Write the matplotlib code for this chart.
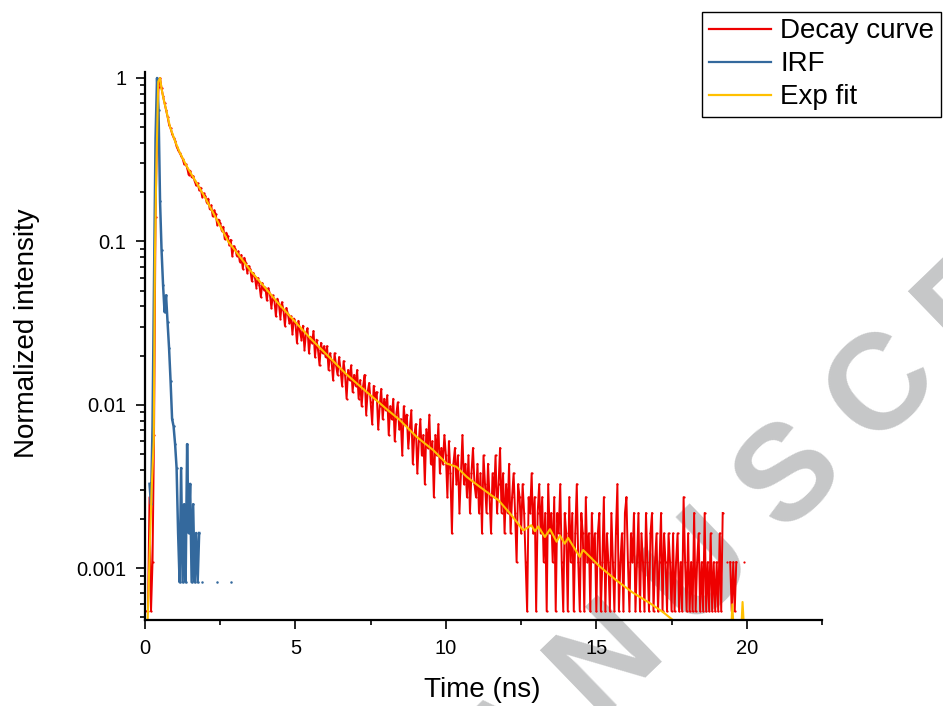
import numpy as np
import matplotlib
matplotlib.use("Agg")
import matplotlib.pyplot as plt
from matplotlib.ticker import LogLocator, NullFormatter, MultipleLocator

plt.rcParams['font.family'] = ['Liberation Sans', 'DejaVu Sans']

# channel width of the TCSPC histograms (ns)
dt = 0.05

# decay curve, raw counts per channel starting at t = 0
decay_counts = [
    0, 1, 1, 5, 1, 2, 12, 260, 880, 1620, 1840, 1590, 1420, 1290, 1175, 1065, 955, 905, 840, 795,
    760, 700, 668, 640, 615, 590, 548, 545, 520, 470, 498, 455, 462, 430, 405, 418, 380, 392, 345, 362,
    350, 318, 336, 290, 306, 262, 285, 270, 232, 250, 238, 214, 226, 190, 208, 198, 175, 188, 150, 172,
    166, 150, 160, 138, 152, 125, 146, 136, 118, 130, 124, 105, 118, 112, 96, 110, 100, 84, 102, 93,
    96, 80, 95, 88, 72, 86, 80, 64, 82, 76, 62, 78, 70, 56, 72, 66, 58, 64, 50, 62,
    58, 44, 60, 52, 46, 56, 40, 50, 54, 38, 48, 44, 52, 36, 46, 40, 32, 44, 38, 42,
    36, 42, 30, 38, 34, 26, 38, 32, 28, 36, 30, 24, 34, 28, 20, 30, 26, 32, 22, 28,
    24, 30, 20, 26, 18, 24, 28, 16, 22, 25, 19, 14, 24, 20, 22, 13, 18, 23, 15, 20,
    17, 21, 12, 18, 15, 20, 11, 16, 19, 13, 15, 9, 18, 14, 16, 10, 13, 17, 8, 12,
    14, 7, 11, 15, 9, 12, 6, 13, 10, 16, 8, 11, 5, 12, 9, 14, 7, 10, 8, 12,
    9, 5, 11, 7, 3, 8, 10, 6, 9, 4, 7, 12, 6, 8, 5, 9, 4, 7, 10, 6,
    5, 8, 4, 7, 3, 9, 6, 4, 8, 5, 3, 7, 5, 9, 4, 6, 10, 4, 7, 3,
    6, 4, 8, 3, 5, 7, 4, 2, 6, 5, 3, 6, 4, 2, 1, 5, 4, 7, 3, 5,
    1, 4, 6, 3, 5, 2, 4, 1, 6, 3, 4, 2, 5, 1, 4, 3, 6, 2, 1, 4,
    3, 1, 5, 2, 4, 1, 3, 6, 2, 1, 4, 3, 1, 5, 2, 3, 1, 4, 2, 3,
    1, 3, 4, 1, 2, 5, 1, 3, 2, 1, 4, 2, 1, 3, 6, 1, 2, 3, 1, 4,
    5, 2, 1, 3, 2, 4, 1, 2, 4, 1, 3, 2, 1, 4, 2, 1, 3, 4, 1, 2,
    3, 1, 2, 4, 1, 3, 2, 1, 3, 2, 1, 3, 1, 2, 3, 1, 2, 1, 5, 2,
    1, 3, 1, 2, 1, 4, 1, 2, 3, 1, 2, 1, 4, 1, 2, 1, 3, 1, 2, 1,
    2, 1, 3, 1, 4, 0, 0, 2, 0, 2, 1, 2, 1, 2, 0, 0, 0, 0, 2, 0,
]
decay_peak = 1840

# instrument response, raw counts per channel starting at t = 0
irf_counts = [
    0, 0, 0, 4, 3, 9, 70, 520, 1220, 780, 215, 108, 66, 45, 57, 39, 27, 17, 10, 9,
    7, 5, 2, 1, 5, 1, 3, 1, 7, 2, 4, 1, 3, 1, 2, 1, 2, 0, 1, 0,
    0, 0, 0, 0, 0, 0, 0, 0, 1, 0, 0, 0, 0, 0, 0, 0, 0, 1, 0, 0,
]
irf_peak = 1220

# reconvolution fit (normalized)
fit_t = [0.09, 0.14, 0.22, 0.29, 0.33, 0.38, 0.44, 0.50, 0.55, 0.61, 0.70, 0.83, 1.0, 1.16,
         1.4, 1.72, 2.0, 2.27, 2.77, 3.0, 3.54, 4.0, 4.43, 5.0, 5.55, 6.0, 6.67, 7.0, 7.5,
         7.81, 8.0, 8.47, 9.02, 9.58, 10.02, 10.35, 10.69, 11.13, 11.5, 11.75, 12.13, 12.35,
         12.57, 12.84, 12.96, 13.07, 13.29, 13.46, 13.68, 13.79, 13.95, 14.06, 14.45, 14.56,
         15.12, 15.67, 16.2, 16.78, 17.2, 17.55, 18.0, 19.0, 19.45, 19.52, 19.6, 19.78,
         19.86, 19.95]
fit_v = [0.00048, 0.001, 0.003, 0.006, 0.08, 0.3, 0.95, 1.0, 0.86, 0.755, 0.64, 0.504, 0.41,
         0.348, 0.285, 0.227, 0.185, 0.149, 0.0995, 0.0877, 0.065, 0.0518, 0.0417, 0.032,
         0.0249, 0.0206, 0.0155, 0.0137, 0.0114, 0.0102, 0.0095, 0.00805, 0.00637, 0.00527,
         0.00437, 0.00417, 0.00362, 0.00314, 0.0028, 0.0026, 0.00216, 0.00192, 0.0017,
         0.00183, 0.00168, 0.0018, 0.00155, 0.00173, 0.00145, 0.00158, 0.00141, 0.00153,
         0.00117, 0.00129, 0.00102, 0.00084, 0.00071, 0.00061, 0.00054, 0.00048, 0.0004,
         0.0003, 0.0003, 0.0006, 0.0003, 0.0003, 0.00062, 0.0003]

t_decay = np.arange(len(decay_counts)) * dt
t_irf = np.arange(len(irf_counts)) * dt
decay = np.array(decay_counts, dtype=float) / decay_peak
irf = np.array(irf_counts, dtype=float) / irf_peak
decay[decay <= 0] = np.nan
irf[irf <= 0] = np.nan

fig = plt.figure(figsize=(9.43, 7.06), dpi=100)

# faint watermark behind the plot (only the letters that land on the page)
for i, ch in enumerate('ANUSCR'):
    cx = 515 + 92 * i
    cy = 748 - 90 * i
    fig.text(cx / 943, 1 - cy / 706, ch, fontsize=98, fontweight='bold', color='#c6c7c8',
             rotation=44, rotation_mode='anchor', ha='center', va='center', zorder=-1)

ax = fig.add_axes([145 / 943, 86 / 706, 677 / 943, 548 / 706])
ax.set_facecolor('none')

ax.plot(t_decay, decay, color='#ee0000', lw=1.4, marker='o', ms=1.6, mew=0, label='Decay curve')
ax.plot(t_irf, irf, color='#34699d', lw=1.8, marker='o', ms=1.8, mew=0, label='IRF')
ax.plot(fit_t, fit_v, color='#ffc000', lw=1.5, label='Exp fit')

ax.set_yscale('log')
ax.set_ylim(0.000481, 1.088)
ax.set_xlim(0, 22.5)
ax.set_yticks([0.001, 0.01, 0.1, 1])
ax.set_yticklabels(['0.001', '0.01', '0.1', '1'])
ax.yaxis.set_minor_locator(LogLocator(base=10, subs=np.arange(2, 10)))
ax.yaxis.set_minor_formatter(NullFormatter())
ax.xaxis.set_major_locator(MultipleLocator(5))
ax.xaxis.set_minor_locator(MultipleLocator(2.5))

for s in ['top', 'right']:
    ax.spines[s].set_visible(False)
for s in ['left', 'bottom']:
    ax.spines[s].set_linewidth(1.6)

ax.tick_params(which='major', direction='out', length=6.5, width=1.2, labelsize=14.5, pad=7)
ax.tick_params(which='minor', direction='out', length=3.5, width=1.2)

ax.set_xlabel('Time (ns)', fontsize=20)
ax.set_ylabel('Normalized intensity', fontsize=20)
ax.xaxis.set_label_coords(0.498, -0.128)
ax.xaxis.label.set_va('center')
ax.yaxis.set_label_coords(-0.174, 0.524)
ax.yaxis.label.set_va('center')

leg = ax.legend(loc='upper right', bbox_to_anchor=(941 / 943, 1 - 11.5 / 706),
                bbox_transform=fig.transFigure, borderaxespad=0, fontsize=20,
                handlelength=2.25, handletextpad=0.32, labelspacing=0.25, borderpad=0.25,
                fancybox=False, framealpha=1, edgecolor='black')
leg.get_frame().set_linewidth(1.0)
for h in leg.get_lines():
    h.set_marker('')
    h.set_linewidth(1.6)

fig.savefig('out.png', dpi=100)
